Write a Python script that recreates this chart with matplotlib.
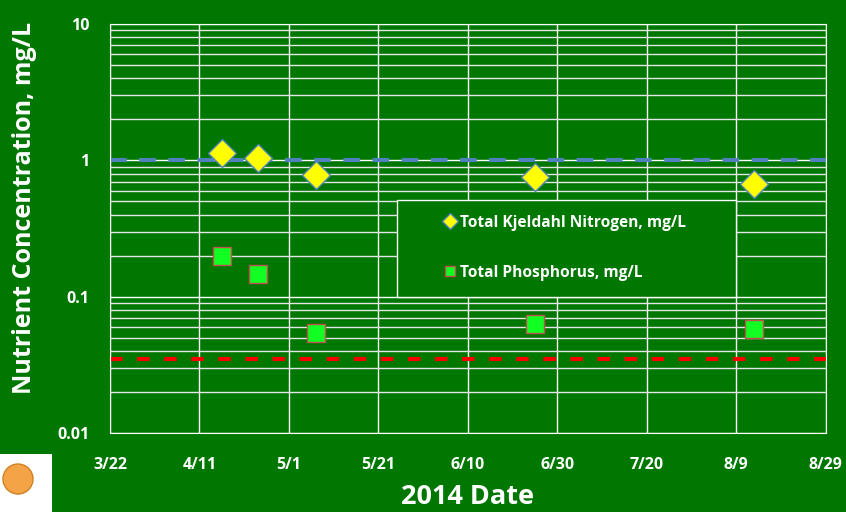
import matplotlib
matplotlib.use("Agg")
import matplotlib.pyplot as plt
import matplotlib.dates as mdates
from matplotlib.ticker import LogLocator, FixedLocator, NullFormatter
from matplotlib.patches import Rectangle, Ellipse
import datetime as dt

plt.rcParams['font.family'] = ['Open Sans', 'DejaVu Sans']

# sample dates and values
dates = ["2014-04-16", "2014-04-24", "2014-05-07", "2014-06-25", "2014-08-13"]
tkn = [1.13, 1.05, 0.78, 0.76, 0.67]
tp = [0.20, 0.146, 0.054, 0.063, 0.058]

tkn_ref = 1.0
tp_ref = 0.035

tick_dates = ["2014-03-22", "2014-04-11", "2014-05-01", "2014-05-21", "2014-06-10",
              "2014-06-30", "2014-07-20", "2014-08-09", "2014-08-29"]
tick_labels = ["3/22", "4/11", "5/1", "5/21", "6/10", "6/30", "7/20", "8/9", "8/29"]

bg = "#007700"
x = [dt.datetime.strptime(d, "%Y-%m-%d") for d in dates]
xt = [mdates.date2num(dt.datetime.strptime(d, "%Y-%m-%d")) for d in tick_dates]

fig = plt.figure(figsize=(8.46, 5.12), dpi=100, facecolor=bg)
ax = fig.add_axes([0.130, 0.154, 0.846, 0.799], facecolor=bg)

ax.set_yscale("log")
ax.set_ylim(0.01, 10)
ax.set_xlim(xt[0], xt[-1])

ax.xaxis.set_major_locator(FixedLocator(xt))
ax.set_xticklabels(tick_labels)
ax.yaxis.set_minor_locator(LogLocator(base=10, subs=range(2, 10), numticks=20))
ax.yaxis.set_minor_formatter(NullFormatter())
ax.set_yticks([0.01, 0.1, 1, 10])
ax.set_yticklabels(["0.01", "0.1", "1", "10"])

ax.grid(True, which="major", color="white", lw=1.0)
ax.grid(True, which="minor", axis="y", color="#e6e6e6", lw=1.0)
ax.set_axisbelow(True)
for s in ax.spines.values():
    s.set_color("white")
ax.tick_params(which="both", length=0, colors="white", labelsize=11.5)
ax.tick_params(axis="x", pad=17)
ax.tick_params(axis="y", pad=15)
for lab in ax.get_xticklabels() + ax.get_yticklabels():
    lab.set_fontweight("bold")

ax.axhline(tkn_ref, color="#4f81bd", lw=3, ls=(0, (4, 3)), zorder=2)
ax.axhline(tp_ref, color="#ff0000", lw=3, ls=(0, (3, 3.5)), zorder=2)

ax.plot(x, tkn, ls="none", marker="D", ms=14, mfc="#ffff00", mec="#4f81bd", mew=1,
        label="Total Kjeldahl Nitrogen, mg/L", zorder=3)
ax.plot(x, tp, ls="none", marker="s", ms=12.5, mfc="#11ff22", mec="#c0504d", mew=1,
        label="Total Phosphorus, mg/L", zorder=3)

# legend box
ax.add_patch(Rectangle((0.401, 0.333), 0.473, 0.237, transform=ax.transAxes,
                       facecolor=bg, edgecolor="white", lw=1.0, zorder=4))
leg = ax.legend(loc="upper left", bbox_to_anchor=(0.470, 0.534), frameon=False,
                markerscale=0.6, handlelength=0.5, handletextpad=0.35,
                labelspacing=2.2, borderpad=0, borderaxespad=0,
                prop={"weight": "bold", "size": 11.2})
leg.set_zorder(5)
for t in leg.get_texts():
    t.set_color("white")

ax.set_xlabel("2014 Date", color="white", fontsize=19.5, fontweight="bold", labelpad=8)
ax.set_ylabel("Nutrient Concentration, mg/L", color="white", fontsize=18, fontweight="bold")
ax.yaxis.set_label_coords(-0.102, 0.551)

# small logo block at the bottom left
fig.patches.append(Rectangle((0, 0), 52 / 846, 58 / 512, transform=fig.transFigure,
                             facecolor="white", edgecolor="none"))
fig.patches.append(Ellipse((18 / 846, 33 / 512), 30 / 846, 30 / 512, transform=fig.transFigure,
                           facecolor="#f4a347", edgecolor="#d08020"))

fig.savefig("out.png", dpi=100, facecolor=bg)
